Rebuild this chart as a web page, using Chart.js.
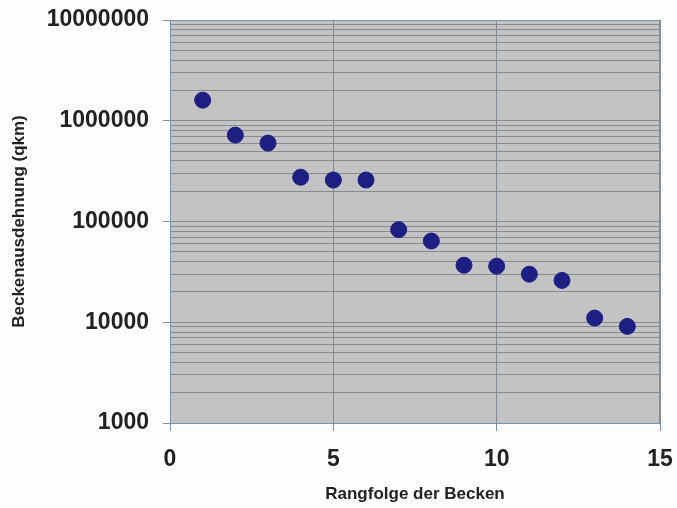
<!DOCTYPE html>
<html>
<head>
<meta charset="utf-8">
<script src="https://cdn.jsdelivr.net/npm/chart.js@4/dist/chart.umd.min.js"></script>
<style>
  html, body { margin: 0; padding: 0; background: #fdfdfe; }
  canvas { display: block; }
</style>
</head>
<body>
<canvas id="becken" width="677" height="508"></canvas>
<script>
    "use strict";

    // Rangfolge (x) und Beckenausdehnung in qkm (y)
    const rang = [1, 2, 3, 4, 5, 6, 7, 8, 9, 10, 11, 12, 13, 14]
    const flaeche = [1600000, 720000, 600000, 275000, 258000, 258000, 83000,
        64000, 36800, 36000, 30000, 26000, 11000, 9100]

    // Beschriftete Zehnerpotenzen der y-Achse
    const yDekaden = [1000, 10000, 100000, 1000000, 10000000]
    const xTicks = [0, 5, 10, 15]

    const gridGrau = '#858b92'
    const achsenBlau = '#7594ab'
    const punktBlau = '#1d1f82'
    const textFarbe = '#222222'

    // Zwischenlinien 2..9 je Dekade
    function logTicks() {
        const out = []
        for (let i = 0; i < yDekaden.length; i++) {
            out.push(yDekaden[i])
            if (i < yDekaden.length - 1) {
                for (let m = 2; m <= 9; m++) out.push(yDekaden[i] * m)
            }
        }
        return out
    }

    const istDekade = v => yDekaden.indexOf(v) !== -1

    // grauer Plotbereich + Rahmen
    const plotFlaeche = {
        id: 'plotFlaeche',
        beforeDraw(chart) {
            const { ctx, chartArea: a } = chart
            ctx.save()
            ctx.fillStyle = '#c3c3c4'
            ctx.fillRect(a.left, a.top, a.right - a.left, a.bottom - a.top)
            ctx.restore()
        },
        afterDatasetsDraw(chart) {
            const { ctx, chartArea: a } = chart
            ctx.save()
            ctx.strokeStyle = achsenBlau
            ctx.lineWidth = 1
            ctx.strokeRect(a.left + 0.5, a.top + 0.5, a.right - a.left - 1, a.bottom - a.top)
            ctx.restore()
        }
    }

    const daten = rang.map((r, i) => ({ x: r, y: flaeche[i] }))

    new Chart(document.getElementById('becken'), {
        type: 'scatter',
        data: {
            datasets: [{
                data: daten,
                backgroundColor: punktBlau,
                borderColor: punktBlau,
                borderWidth: 1,
                pointRadius: 8,
                pointHoverRadius: 8
            }]
        },
        plugins: [plotFlaeche],
        options: {
            responsive: false,
            animation: false,
            layout: { padding: { top: 20, right: 17, left: 0, bottom: 0 } },
            plugins: {
                legend: { display: false },
                tooltip: { enabled: false }
            },
            scales: {
                x: {
                    type: 'linear',
                    min: 0,
                    max: 15,
                    afterBuildTicks: s => { s.ticks = xTicks.map(v => ({ value: v })) },
                    afterFit: s => {
                        s.height = 85
                        s.paddingLeft = 0
                        s.paddingRight = 0
                    },
                    grid: {
                        color: gridGrau,
                        tickColor: achsenBlau,
                        tickLength: 8,
                        drawOnChartArea: true
                    },
                    border: { display: false },
                    ticks: {
                        autoSkip: false,
                        maxRotation: 0,
                        padding: 15,
                        color: textFarbe,
                        font: { family: 'Liberation Sans, Arial, sans-serif', size: 23, weight: 'bold' }
                    },
                    title: {
                        display: true,
                        text: 'Rangfolge der Becken',
                        color: textFarbe,
                        padding: { top: 0, bottom: 3 },
                        font: { family: 'Liberation Sans, Arial, sans-serif', size: 17, weight: 'bold' }
                    }
                },
                y: {
                    type: 'logarithmic',
                    min: 1000,
                    max: 10000000,
                    afterBuildTicks: s => { s.ticks = logTicks().map(v => ({ value: v, major: istDekade(v) })) },
                    afterFit: s => {
                        s.width = 170
                        s.paddingTop = 0
                        s.paddingBottom = 0
                    },
                    grid: {
                        color: gridGrau,
                        tickColor: ctx => (ctx.tick && istDekade(ctx.tick.value)) ? achsenBlau : 'rgba(0,0,0,0)',
                        tickLength: 7
                    },
                    border: { display: false },
                    ticks: {
                        autoSkip: false,
                        padding: 14,
                        color: textFarbe,
                        font: { family: 'Liberation Sans, Arial, sans-serif', size: 23, weight: 'bold' },
                        callback: v => istDekade(v) ? String(v) : ''
                    },
                    title: {
                        display: true,
                        text: 'Beckenausdehnung (qkm)',
                        color: textFarbe,
                        padding: { top: 9, bottom: 0 },
                        font: { family: 'Liberation Sans, Arial, sans-serif', size: 17, weight: 'bold' }
                    }
                }
            }
        }
    })
</script>
</body>
</html>
